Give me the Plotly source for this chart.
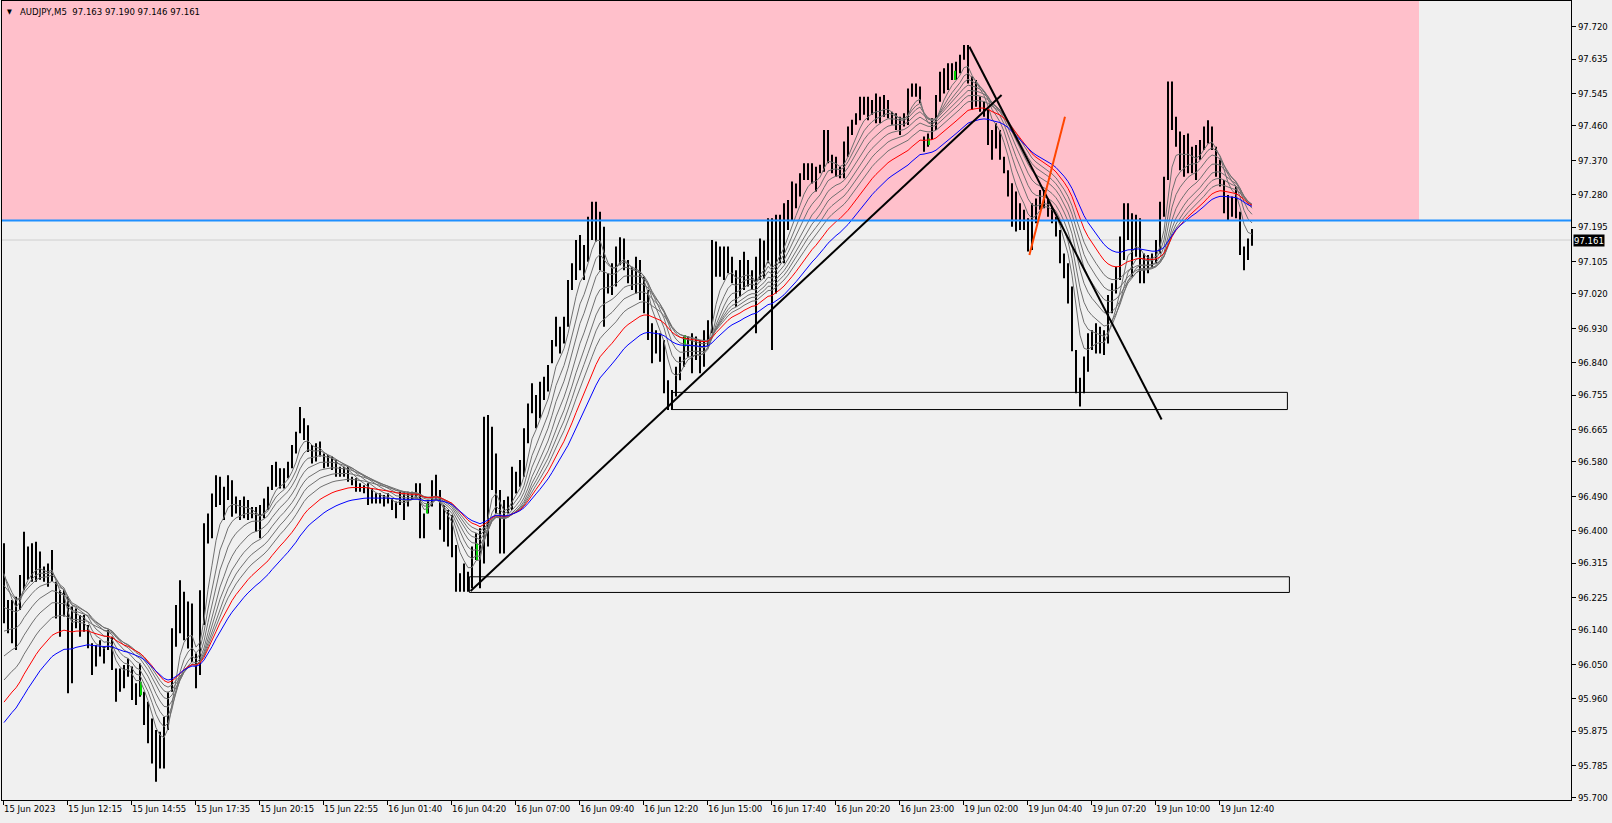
import plotly.graph_objects as go

# ---------------- data (10-minute bars; slot unit = one 5-minute bar) ----------------
bar_high = [
96.367,96.218,96.218,96.227,96.284,96.397,96.358,96.367,96.371,96.345,
96.306,96.314,96.349,96.266,96.244,96.244,96.227,96.201,96.196,96.179,
96.179,96.153,96.105,96.100,96.113,96.096,96.140,96.122,96.039,96.039,
96.048,96.065,96.044,96.000,96.052,95.978,95.952,95.908,95.878,95.873,
95.912,95.978,96.144,96.205,96.270,96.240,96.214,96.209,96.078,96.244,
96.419,96.445,96.497,96.545,96.541,96.515,96.545,96.532,96.489,96.480,
96.489,96.480,96.462,96.462,96.467,96.484,96.515,96.572,96.580,96.563,
96.563,96.580,96.624,96.659,96.724,96.694,96.676,96.624,96.629,96.633,
96.602,96.598,96.594,96.585,96.567,96.567,96.567,96.541,96.537,96.524,
96.519,96.524,96.511,96.498,96.498,96.493,96.498,96.484,96.476,96.502,
96.502,96.502,96.502,96.524,96.524,96.445,96.480,96.532,96.546,96.506,
96.467,96.454,96.441,96.362,96.288,96.314,96.292,96.358,96.393,96.406,
96.698,96.703,96.672,96.602,96.506,96.480,96.489,96.567,96.554,96.585,
96.668,96.733,96.786,96.755,96.790,96.803,96.834,96.899,96.960,96.934,
96.960,97.056,97.100,97.161,97.174,97.148,97.222,97.261,97.261,97.235,
97.196,97.074,97.100,97.144,97.168,97.165,97.109,97.091,97.117,97.109,
97.065,97.030,96.943,96.925,96.917,96.899,96.794,96.768,96.829,96.855,
96.908,96.908,96.917,96.908,96.899,96.925,96.951,97.161,97.157,97.144,
97.144,97.144,97.117,97.082,97.109,97.130,97.109,97.082,97.117,97.165,
97.160,97.218,97.218,97.227,97.227,97.257,97.266,97.314,97.309,97.336,
97.362,97.362,97.362,97.353,97.358,97.449,97.449,97.384,97.379,97.353,
97.419,97.458,97.476,97.493,97.536,97.536,97.536,97.528,97.545,97.536,
97.541,97.528,97.497,97.493,97.484,97.493,97.558,97.571,97.571,97.563,
97.432,97.440,97.480,97.541,97.602,97.611,97.624,97.624,97.628,97.646,
97.672,97.672,97.589,97.580,97.537,97.524,97.502,97.449,97.467,97.449,
97.379,97.344,97.310,97.288,97.257,97.240,97.218,97.257,97.270,97.292,
97.292,97.270,97.248,97.222,97.187,97.126,97.100,97.039,96.873,96.800,
96.856,96.917,96.925,96.943,96.934,96.925,97.017,97.048,97.091,97.170,
97.257,97.257,97.231,97.227,97.218,97.126,97.122,97.126,97.161,97.261,
97.327,97.576,97.576,97.484,97.445,97.436,97.440,97.405,97.410,97.423,
97.458,97.475,97.458,97.405,97.371,97.318,97.279,97.275,97.301,97.235,
97.144,97.165,97.190]

bar_low = [
96.157,96.131,96.105,96.087,96.192,96.244,96.271,96.266,96.266,96.271,
96.266,96.253,96.266,96.170,96.122,96.175,95.974,96.000,96.144,96.122,
96.135,96.092,96.022,96.044,96.070,96.052,96.087,96.035,95.952,95.978,
95.987,96.017,95.956,95.943,95.965,95.891,95.843,95.790,95.742,95.777,
95.777,95.878,95.978,96.096,96.131,96.113,96.091,96.056,95.987,96.022,
96.153,96.366,96.380,96.462,96.467,96.428,96.480,96.436,96.445,96.428,
96.432,96.428,96.432,96.397,96.380,96.432,96.454,96.506,96.515,96.510,
96.510,96.537,96.563,96.602,96.655,96.637,96.606,96.576,96.581,96.594,
96.563,96.567,96.559,96.541,96.541,96.541,96.528,96.519,96.502,96.502,
96.498,96.467,96.471,96.471,96.471,96.463,96.471,96.454,96.432,96.467,
96.428,96.463,96.480,96.484,96.380,96.380,96.445,96.463,96.480,96.402,
96.371,96.358,96.330,96.240,96.240,96.240,96.240,96.249,96.323,96.249,
96.314,96.358,96.506,96.445,96.340,96.340,96.445,96.454,96.497,96.515,
96.541,96.629,96.707,96.668,96.694,96.742,96.764,96.838,96.882,96.864,
96.890,96.934,97.030,97.056,97.082,97.056,97.104,97.161,97.157,97.082,
96.934,97.021,97.017,97.039,97.095,97.082,97.048,97.030,97.021,97.004,
96.969,96.899,96.838,96.864,96.842,96.760,96.716,96.716,96.751,96.794,
96.829,96.855,96.812,96.847,96.812,96.829,96.882,96.917,97.065,97.065,
97.056,97.074,97.048,96.986,97.013,97.030,97.039,97.030,96.917,97.056,
97.060,97.100,96.873,97.021,97.100,97.100,97.187,97.213,97.244,97.275,
97.318,97.318,97.309,97.288,97.336,97.340,97.362,97.336,97.327,97.323,
97.323,97.379,97.436,97.463,97.475,97.489,97.475,97.489,97.467,97.467,
97.484,97.480,97.463,97.449,97.436,97.458,97.462,97.536,97.536,97.519,
97.392,97.405,97.423,97.449,97.523,97.545,97.554,97.580,97.580,97.598,
97.633,97.571,97.502,97.510,97.497,97.484,97.410,97.371,97.401,97.371,
97.336,97.275,97.196,97.183,97.187,97.187,97.131,97.135,97.205,97.240,
97.244,97.222,97.205,97.170,97.100,97.061,96.995,96.870,96.760,96.725,
96.760,96.816,96.873,96.864,96.864,96.860,96.890,96.969,97.021,97.056,
97.109,97.161,97.065,97.117,97.048,97.048,97.074,97.091,97.100,97.126,
97.222,97.318,97.449,97.405,97.344,97.327,97.336,97.336,97.318,97.371,
97.397,97.414,97.397,97.327,97.301,97.231,97.213,97.222,97.218,97.122,
97.082,97.109,97.146]

# green signal marks (5-minute slot, high, low)
signal_slot = [69, 212, 237, 341, 463, 476]
signal_high = [96.004, 96.471, 96.366, 96.912, 97.427, 97.604]
signal_low = [95.969, 96.445, 96.323, 96.882, 97.410, 97.580]

# moving averages (EMA periods in 5-minute bars) and their values at the left edge
ma_periods = [10, 16, 22, 29, 36, 43, 51, 62, 78]
ma_start = [96.300, 96.290, 96.255, 96.189, 96.122, 96.053, 95.988, 95.930, 95.878]
ma_colors = ["#707070"] * 7 + ["#FF0000", "#0000FF"]

# x-axis labels every 32 bars
x_tick_slot = [32 * i for i in range(20)]
x_tick_text = ["15 Jun 2023", "15 Jun 12:15", "15 Jun 14:55", "15 Jun 17:35", "15 Jun 20:15",
               "15 Jun 22:55", "16 Jun 01:40", "16 Jun 04:20", "16 Jun 07:00", "16 Jun 09:40",
               "16 Jun 12:20", "16 Jun 15:00", "16 Jun 17:40", "16 Jun 20:20", "16 Jun 23:00",
               "19 Jun 02:00", "19 Jun 04:40", "19 Jun 07:20", "19 Jun 10:00", "19 Jun 12:40"]
y_tick_text = ["97.720", "97.635", "97.545", "97.460", "97.370", "97.280", "97.195", "97.105",
               "97.020", "96.930", "96.840", "96.755", "96.665", "96.580", "96.490", "96.400",
               "96.315", "96.225", "96.140", "96.050", "95.960", "95.875", "95.785", "95.700"]

# drawn objects (slot, price)
zone_price_bottom = 97.212
zone_slot_end = 708
resist_price = 97.212
bid_price = 97.161
trend_up = [(233.8, 96.242), (499.3, 97.541)]
trend_down = [(483.2, 97.667), (579.3, 96.691)]
trend_orange = [(513.2, 97.122), (531.0, 97.484)]
box_upper = [(334.3, 96.717), (642.2, 96.762)]
box_lower = [(233.2, 96.238), (643.2, 96.279)]

title_text = "AUDJPY,M5  97.163 97.190 97.146 97.161"

X_RANGE = [-0.5, 784]
Y_RANGE = [95.6944, 97.787]
FONT = "'DejaVu Sans Condensed', Tahoma, 'Liberation Sans', Arial, sans-serif"

# ---------------- figure ----------------
fig = go.Figure()

n = len(bar_high)
bar_x = [2 * j + 0.5 for j in range(n)]

# price bars
bx, by = [], []
for j in range(n):
    bx += [bar_x[j], bar_x[j], None]
    by += [bar_low[j], bar_high[j], None]
fig.add_trace(go.Scatter(x=bx, y=by, mode="lines", line=dict(color="#000000", width=2),
                         hoverinfo="skip"))

# green signal marks
gx, gy = [], []
for s, h, l in zip(signal_slot, signal_high, signal_low):
    gx += [s, s, None]
    gy += [l, h, None]
fig.add_trace(go.Scatter(x=gx, y=gy, mode="lines", line=dict(color="#00D000", width=2),
                         hoverinfo="skip"))

# moving averages of the median price (EMA, 10-minute steps)
median = [(h + l) / 2 for h, l in zip(bar_high, bar_low)]
for period, start, col in zip(ma_periods, ma_start, ma_colors):
    a = 1 - (1 - 2.0 / (period + 1)) ** 2
    v = start
    vals = []
    for p in median:
        v = v + a * (p - v)
        vals.append(v)
    fig.add_trace(go.Scatter(x=bar_x, y=vals, mode="lines", line=dict(color=col, width=1),
                             hoverinfo="skip"))

shapes = []
# pink supply zone (background)
shapes.append(dict(type="rect", xref="x", yref="y", x0=-5, x1=zone_slot_end,
                   y0=zone_price_bottom, y1=98.5, fillcolor="#FFC0CB", line=dict(width=0),
                   layer="below"))
# bid line
shapes.append(dict(type="line", xref="x", yref="y", x0=X_RANGE[0], x1=X_RANGE[1],
                   y0=bid_price, y1=bid_price, line=dict(color="#CFCFCF", width=1), layer="below"))
# resistance line
shapes.append(dict(type="line", xref="x", yref="y", x0=X_RANGE[0], x1=X_RANGE[1],
                   y0=resist_price, y1=resist_price, line=dict(color="#1E90FF", width=2)))
# boxes
for b in (box_upper, box_lower):
    shapes.append(dict(type="rect", xref="x", yref="y", x0=b[0][0], x1=b[1][0],
                       y0=b[0][1], y1=b[1][1], line=dict(color="#000000", width=1),
                       fillcolor="rgba(0,0,0,0)"))
# trend lines
for t, c in ((trend_up, "#000000"), (trend_down, "#000000"), (trend_orange, "#FF4500")):
    shapes.append(dict(type="line", xref="x", yref="y", x0=t[0][0], y0=t[0][1],
                       x1=t[1][0], y1=t[1][1], line=dict(color=c, width=2)))

annotations = [
    dict(xref="paper", yref="paper", x=0, y=1, xanchor="left", yanchor="top", xshift=3, yshift=-5,
         text="▼", showarrow=False, font=dict(family=FONT, size=7, color="#000000")),
    dict(xref="paper", yref="paper", x=0, y=1, xanchor="left", yanchor="top", xshift=16, yshift=-3,
         text=title_text, showarrow=False, font=dict(family=FONT, size=9.5, color="#000000")),
    dict(xref="paper", yref="y", x=1, y=bid_price, xanchor="left", yanchor="middle", xshift=2,
         text="97.161", showarrow=False, bgcolor="#000000", borderpad=0,
         font=dict(family=FONT, size=9.5, color="#FFFFFF")),
]

fig.update_layout(
    width=1612, height=823,
    margin=dict(l=2, r=41, t=1, b=23),
    paper_bgcolor="#F0F0F0", plot_bgcolor="#F0F0F0",
    showlegend=False,
    shapes=shapes,
    annotations=annotations,
    xaxis=dict(range=X_RANGE, tickvals=x_tick_slot, ticktext=x_tick_text,
               ticks="outside", ticklen=4, tickcolor="#000000", tickwidth=1,
               ticklabelposition="outside right",
               showline=True, mirror=True, linecolor="#000000", linewidth=1,
               showgrid=False, zeroline=False,
               tickfont=dict(family=FONT, size=9.5, color="#000000")),
    yaxis=dict(range=Y_RANGE, side="right", tickvals=[float(t) for t in y_tick_text],
               ticktext=y_tick_text, ticks="outside", ticklen=4, tickcolor="#000000",
               showline=True, mirror=True, linecolor="#000000", linewidth=1,
               showgrid=False, zeroline=False,
               tickfont=dict(family=FONT, size=9.5, color="#000000")),
)

fig.write_html("out.html", config={"displayModeBar": False},
               post_script="document.body.style.margin='0';document.body.style.overflow='hidden';")
